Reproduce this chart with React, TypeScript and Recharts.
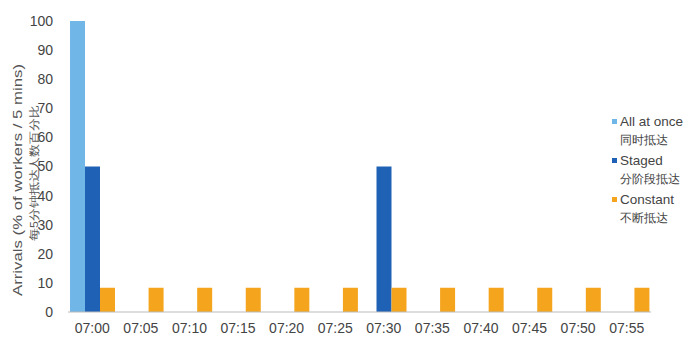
import React from 'react';
import { BarChart, Bar, XAxis, YAxis, Label } from 'recharts';

const times = ['07:00', '07:05', '07:10', '07:15', '07:20', '07:25', '07:30', '07:35', '07:40', '07:45', '07:50', '07:55'];
const allAtOnce = [100, 0, 0, 0, 0, 0, 0, 0, 0, 0, 0, 0];
const staged = [50, 0, 0, 0, 0, 0, 50, 0, 0, 0, 0, 0];
const constant = [8.33, 8.33, 8.33, 8.33, 8.33, 8.33, 8.33, 8.33, 8.33, 8.33, 8.33, 8.33];
const yTicks = [0, 10, 20, 30, 40, 50, 60, 70, 80, 90, 100];

const legendItems = [
  { en: 'All at once', zh: '同时抵达', color: '#70b6e6' },
  { en: 'Staged', zh: '分阶段抵达', color: '#1f62b5' },
  { en: 'Constant', zh: '不断抵达', color: '#f4a51d' },
];

const data = times.map((t, i) => ({
  name: t,
  allAtOnce: allAtOnce[i],
  staged: staged[i],
  constant: constant[i],
}));

const font = '"Liberation Sans", Arial, sans-serif';

function AxisTitle() {
  return (
    <g fill="#555" fontFamily={font}>
      <text
        x={17}
        y={180}
        transform="rotate(-90 17 180)"
        textAnchor="middle"
        dominantBaseline="central"
        fontSize={13.5}
        textLength={232}
        lengthAdjust="spacingAndGlyphs"
      >
        Arrivals (% of workers / 5 mins)
      </text>
      <text
        x={34}
        y={173}
        transform="rotate(-90 34 173)"
        textAnchor="middle"
        dominantBaseline="central"
        fontSize={10.5}
        textLength={136}
        lengthAdjust="spacingAndGlyphs"
      >
        每5分钟抵达人数百分比
      </text>
    </g>
  );
}

export default function App() {
  return (
    <div style={{ position: 'absolute', left: 0, top: 0, width: 699, height: 338, background: '#fff', fontFamily: font }}>
      <BarChart
        width={699}
        height={338}
        data={data}
        margin={{ top: 21, right: 48, bottom: 0, left: 0 }}
        barCategoryGap={2}
        barGap={0}
      >
        <XAxis
          dataKey="name"
          tickLine={false}
          axisLine={{ stroke: '#bbb' }}
          tick={{ fill: '#444', fontSize: 14, fontFamily: font }}
          tickMargin={5}
          height={26}
          interval={0}
        />
        <YAxis
          domain={[0, 100]}
          ticks={yTicks}
          width={68}
          axisLine={false}
          tickLine={false}
          tickMargin={9}
          tick={{ fill: '#444', fontSize: 14, fontFamily: font }}
        >
          <Label content={<AxisTitle />} />
        </YAxis>
        <Bar dataKey="allAtOnce" fill="#70b6e6" isAnimationActive={false} />
        <Bar dataKey="staged" fill="#1f62b5" isAnimationActive={false} />
        <Bar dataKey="constant" fill="#f4a51d" isAnimationActive={false} />
      </BarChart>
      <div style={{ position: 'absolute', left: 612, top: 112, color: '#444', lineHeight: '19.4px' }}>
        {legendItems.map((it) => (
          <div key={it.en}>
            <div style={{ display: 'flex', alignItems: 'center', fontSize: 13.5 }}>
              <span style={{ display: 'inline-block', width: 5, height: 5, background: it.color, marginRight: 3 }} />
              {it.en}
            </div>
            <div style={{ paddingLeft: 8, fontSize: 12 }}>{it.zh}</div>
          </div>
        ))}
      </div>
    </div>
  );
}
